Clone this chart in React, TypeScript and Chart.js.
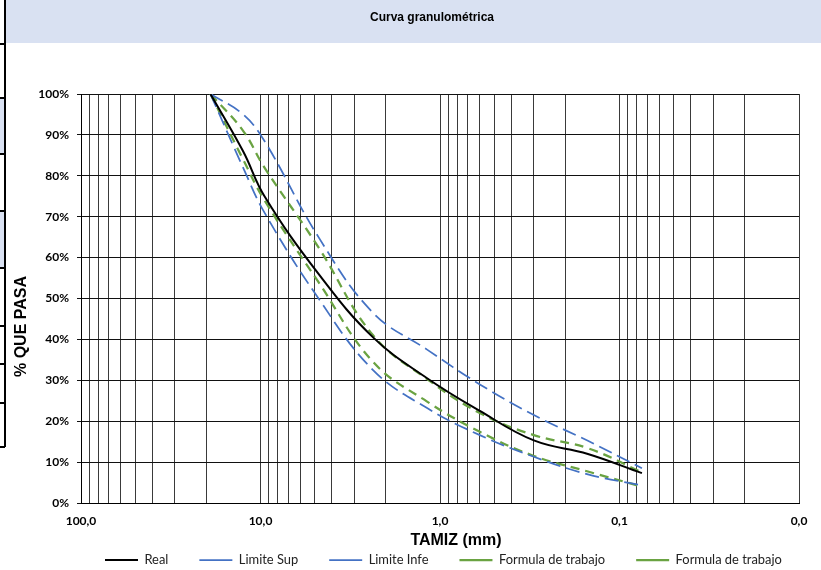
import React, { useEffect, useRef } from "react";
import { Chart, registerables } from "chart.js";

Chart.register(...registerables);

const chartTitle = "Curva granulométrica";
const xAxisTitle = "TAMIZ (mm)";
const yAxisTitle = "% QUE PASA";

// Sieve openings (mm)
const sieveSizes = [19, 12.5, 9.5, 4.75, 2.36, 1.18, 0.6, 0.3, 0.15, 0.075];
// % passing
const real = [100, 86, 75, 56, 40.5, 30.5, 22.5, 15.3, 12, 7.3];
const limiteSup = [100, 95, 88.5, 65, 46.5, 37.5, 29, 21.5, 15.2, 8.5];
const limiteInf = [100, 82, 71, 50, 32.5, 23.2, 16.6, 11.3, 7, 4.3];
const formulaSup = [100, 91, 82, 62.5, 41, 30.3, 22, 16.6, 13.4, 7.5];
const formulaInf = [100, 84, 74, 54, 34.5, 24.8, 17.4, 11.5, 7.7, 4];

// x grid lines (log minor ticks) and labelled decades
const xGridValues = [
  0.01, 0.02, 0.03, 0.04, 0.05, 0.06, 0.07, 0.08, 0.09,
  0.1, 0.2, 0.3, 0.4, 0.5, 0.6, 0.7, 0.8, 0.9,
  1, 2, 3, 4, 5, 6, 7, 8, 9,
  10, 20, 30, 40, 50, 60, 70, 80, 90,
  100,
];
const xLabelValues = [100, 10, 1, 0.1, 0.01];

const BLUE = "#4472C4";
const GREEN = "#6AA342";

const PAD_BOTTOM = -17;
const LEGEND_START_X = 105;
const LEGEND_TEXT_Y = 560;

const pts = (ys: number[]) => sieveSizes.map((x, i) => ({ x, y: ys[i] }));

const textPlugin = {
  id: "textPlugin",
  afterLayout(chart: any) {
    const lg = chart.legend;
    if (lg) {
      const labels = lg.options.labels;
      const size = labels.font.size;
      const pad = labels.padding;
      const currentCenter = lg.top + pad + size / 2;
      const dy = LEGEND_TEXT_Y - currentCenter;
      const lineW = lg.lineWidths ? lg.lineWidths[0] : 0;
      const currentStart = (lg.left + pad + lg.right - lineW) / 2;
      const dx = LEGEND_START_X - currentStart;
      lg.left += dx;
      lg.right += dx;
      lg.top += dy;
      lg.bottom += dy;
    }
  },
  afterDraw(chart: any) {
    const { ctx, chartArea: a } = chart;
    ctx.save();
    ctx.fillStyle = "#000";
    ctx.textAlign = "center";
    ctx.textBaseline = "middle";
    ctx.font = 'bold 12px "Liberation Sans", Arial, sans-serif';
    ctx.fillText(chartTitle, 432, 18);
    ctx.font = 'bold 16px "Liberation Sans", Arial, sans-serif';
    ctx.fillText(xAxisTitle, (a.left + a.right) / 2 + 16, a.bottom + 38);
    ctx.translate(21.5, (a.top + a.bottom) / 2 + 28);
    ctx.rotate(-Math.PI / 2);
    ctx.fillText(yAxisTitle, 0, 0);
    ctx.restore();
  },
};

export default function App() {
  const ref = useRef<HTMLCanvasElement>(null);

  useEffect(() => {
    const line = (label: string, data: number[], color: string, width: number, dash: number[]) => ({
      label,
      data: pts(data),
      borderColor: color,
      backgroundColor: color,
      borderWidth: width,
      borderDash: dash,
      pointRadius: 0,
      pointHoverRadius: 0,
      tension: 0.4,
      fill: false,
    });
    const chart = new Chart(ref.current!, {
      type: "line",
      data: {
        datasets: [
          line("Real", real, "#000000", 2, []),
          line("Limite Sup", limiteSup, BLUE, 1.75, [14, 6]),
          line("Limite Infe", limiteInf, BLUE, 1.75, [14, 6]),
          line("Formula de trabajo", formulaSup, GREEN, 2.25, [9, 6]),
          line("Formula de trabajo", formulaInf, GREEN, 2.25, [9, 6]),
        ],
      },
      options: {
        animation: false,
        responsive: false,
        events: [],
        layout: { padding: { top: 94, right: 22, left: 0, bottom: PAD_BOTTOM } },
        scales: {
          x: {
            type: "logarithmic",
            min: 0.01,
            max: 100,
            reverse: true,
            afterBuildTicks: (s: any) => {
              s.ticks = xGridValues.map((v) => ({ value: v }));
            },
            afterFit: (s: any) => {
              const lg = s.chart.legend;
              s.height = 570 - 503 - PAD_BOTTOM - (lg ? lg.height : 0);
            },
            ticks: {
              autoSkip: false,
              maxRotation: 0,
              minRotation: 0,
              padding: 11,
              color: "#000",
              font: { family: "Lato", weight: "bold", size: 12 },
              callback: (v: any) =>
                xLabelValues.includes(Number(v)) ? Number(v).toFixed(1).replace(".", ",") : "",
            },
            grid: { color: "#3a3a3a", lineWidth: 1, drawTicks: false },
            border: { color: "#000", width: 1 },
          },
          y: {
            min: 0,
            max: 100,
            afterFit: (s: any) => {
              s.width = 81;
            },
            ticks: {
              stepSize: 10,
              padding: 8,
              color: "#000",
              font: { family: "Lato", weight: "bold", size: 12 },
              callback: (v: any) => v + "%",
            },
            grid: { color: "#111", lineWidth: 1, tickLength: 4 },
            border: { color: "#000", width: 1 },
          },
        },
        plugins: {
          title: { display: false },
          tooltip: { enabled: false },
          legend: {
            position: "bottom",
            labels: {
              usePointStyle: true,
              pointStyle: "line",
              pointStyleWidth: 33,
              padding: 31,
              color: "#222",
              font: { family: "Lato", size: 12.9 },
            },
          },
        },
      },
      plugins: [textPlugin],
    } as any);
    return () => chart.destroy();
  }, []);

  const hLine = (top: number) => (
    <div key={top} style={{ position: "absolute", left: 0, top, width: 5, height: 1.5, background: "#000" }} />
  );

  return (
    <div style={{ position: "fixed", left: 0, top: 0, width: 821, height: 570, background: "#fff", overflow: "hidden" }}>
      <div style={{ position: "absolute", left: 5, top: 0, width: 816, height: 43, background: "#D9E1F2" }} />
      <div style={{ position: "absolute", left: 0, top: 97, width: 4, height: 56, background: "#D9E1F2" }} />
      <div style={{ position: "absolute", left: 0, top: 210, width: 4, height: 57, background: "#D9E1F2" }} />
      <div style={{ position: "absolute", left: 4, top: 0, width: 1.5, height: 447, background: "#000" }} />
      {[43, 97, 153, 210, 267, 325, 363, 402, 446].map(hLine)}
      <canvas ref={ref} width={821} height={570} style={{ position: "absolute", left: 0, top: 0 }} />
    </div>
  );
}
